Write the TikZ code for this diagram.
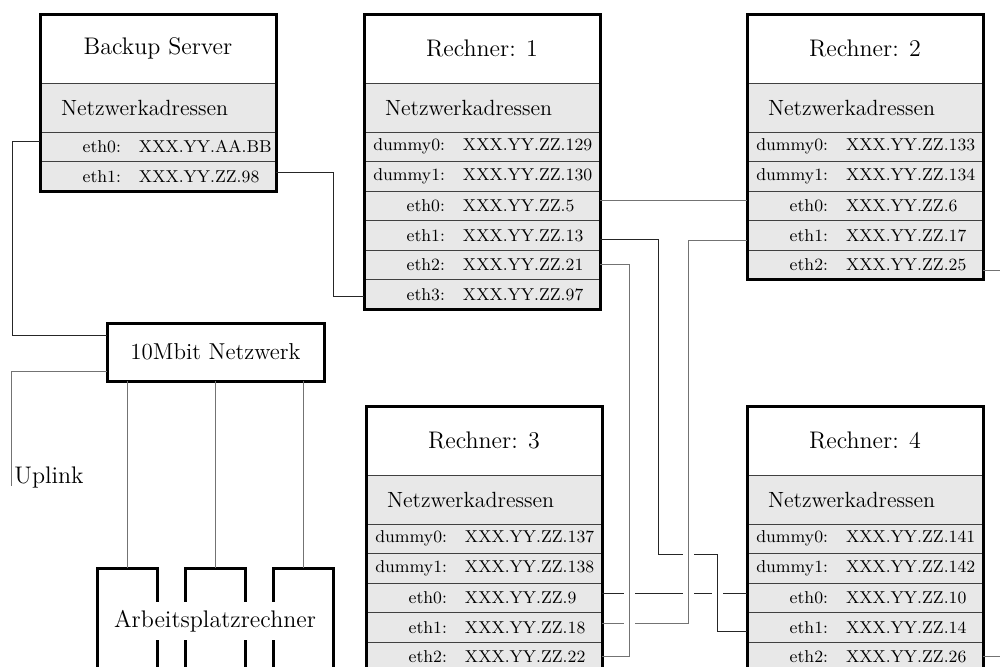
\documentclass[tikz,border=0pt]{standalone}
\usetikzlibrary{calc}
\tikzset{
  hdr/.style={draw=black!75, line width=0.5pt, fill=white, anchor=north west, inner sep=0pt, outer sep=0pt,
    minimum width=118pt, minimum height=34.5pt, font=\fontsize{12}{14}\selectfont},
  netz/.style={draw=black!75, line width=0.5pt, fill=black!9, anchor=north west, inner sep=0pt, outer sep=0pt,
    minimum width=118pt, minimum height=24.5pt, font=\fontsize{11}{13}\selectfont},
  rowcell/.style={draw=black!75, line width=0.5pt, fill=black!9, anchor=north west, inner sep=0pt, outer sep=0pt,
    minimum width=118pt, minimum height=14.75pt, font=\fontsize{8.6}{10}\selectfont},
  frame/.style={draw=black, line width=1.5pt},
  netbox/.style={draw=black, line width=1.5pt, fill=white, inner sep=0pt, outer sep=0pt,
    minimum width=108.5pt, minimum height=29pt, font=\fontsize{11.5}{13}\selectfont},
  wsbox/.style={draw=black, line width=1.5pt, fill=white, anchor=north, inner sep=0pt, outer sep=0pt,
    minimum width=30pt, minimum height=70pt},
  lnk/.style={draw=black!85, line width=0.5pt},
  lng/.style={draw=black!55, line width=0.5pt},
}
\newcommand\nwrow[5]{\node[rowcell] (#1) at (#2,#3) {\makebox[118pt][l]{\makebox[40.5pt][r]{#4}\hspace{9pt}#5}};}
\newcommand\nwhead[3]{\node[netz] (#1) at (#2,#3) {\makebox[118pt][l]{\hspace{10.5pt}Netzwerkadressen}};}
\begin{document}
\begin{tikzpicture}[x=0.5pt,y=-0.5pt]
\useasboundingbox (0,0) rectangle (1000,666);
\clip (0,0) rectangle (1000,666);

% Backup Server
\node[hdr] (bk) at (40,14) {Backup Server};
\nwhead{bkn}{40}{83}
\nwrow{bke0}{40}{132}{eth0:}{XXX.YY.AA.BB}
\nwrow{bke1}{40}{161.5}{eth1:}{XXX.YY.ZZ.98}
\draw[frame] (bk.north west) rectangle (bke1.south east);

% Rechner 1
\node[hdr] (r1) at (364,14) {Rechner: 1};
\nwhead{r1n}{364}{83}
\nwrow{r1d0}{364}{132}{dummy0:}{XXX.YY.ZZ.129}
\nwrow{r1d1}{364}{161.5}{dummy1:}{XXX.YY.ZZ.130}
\nwrow{r1e0}{364}{191}{eth0:}{XXX.YY.ZZ.5}
\nwrow{r1e1}{364}{220.5}{eth1:}{XXX.YY.ZZ.13}
\nwrow{r1e2}{364}{250}{eth2:}{XXX.YY.ZZ.21}
\nwrow{r1e3}{364}{279.5}{eth3:}{XXX.YY.ZZ.97}
\draw[frame] (r1.north west) rectangle (r1e3.south east);

% Rechner 2
\node[hdr] (r2) at (747,14) {Rechner: 2};
\nwhead{r2n}{747}{83}
\nwrow{r2d0}{747}{132}{dummy0:}{XXX.YY.ZZ.133}
\nwrow{r2d1}{747}{161.5}{dummy1:}{XXX.YY.ZZ.134}
\nwrow{r2e0}{747}{191}{eth0:}{XXX.YY.ZZ.6}
\nwrow{r2e1}{747}{220.5}{eth1:}{XXX.YY.ZZ.17}
\nwrow{r2e2}{747}{250}{eth2:}{XXX.YY.ZZ.25}
\draw[frame] (r2.north west) rectangle (r2e2.south east);

% Rechner 3
\node[hdr] (r3) at (366,406) {Rechner: 3};
\nwhead{r3n}{366}{475}
\nwrow{r3d0}{366}{524}{dummy0:}{XXX.YY.ZZ.137}
\nwrow{r3d1}{366}{553.5}{dummy1:}{XXX.YY.ZZ.138}
\nwrow{r3e0}{366}{583}{eth0:}{XXX.YY.ZZ.9}
\nwrow{r3e1}{366}{612.5}{eth1:}{XXX.YY.ZZ.18}
\nwrow{r3e2}{366}{642}{eth2:}{XXX.YY.ZZ.22}
\draw[frame] (r3.north west) rectangle (r3e2.south east);

% Rechner 4
\node[hdr] (r4) at (747,406) {Rechner: 4};
\nwhead{r4n}{747}{475}
\nwrow{r4d0}{747}{524}{dummy0:}{XXX.YY.ZZ.141}
\nwrow{r4d1}{747}{553.5}{dummy1:}{XXX.YY.ZZ.142}
\nwrow{r4e0}{747}{583}{eth0:}{XXX.YY.ZZ.10}
\nwrow{r4e1}{747}{612.5}{eth1:}{XXX.YY.ZZ.14}
\nwrow{r4e2}{747}{642}{eth2:}{XXX.YY.ZZ.26}
\draw[frame] (r4.north west) rectangle (r4e2.south east);

% 10Mbit network and workstations
\node[netbox] (net) at (215.5,352) {10Mbit Netzwerk};
\node[wsbox] (ws1) at (127.5,568) {};
\node[wsbox] (ws2) at (215.5,568) {};
\node[wsbox] (ws3) at (303,568) {};
\node[fill=white, inner xsep=1pt, inner ysep=4pt, font=\fontsize{12}{14}\selectfont] (ws) at (215,621) {Arbeitsplatzrechner};
\draw[lng] (net.south -| ws1.north) -- (ws1.north);
\draw[lng] (net.south -| ws2.north) -- (ws2.north);
\draw[lng] (net.south -| ws3.north) -- (ws3.north);

% Uplink
\coordinate (upend) at (11,486);
\node[anchor=west, inner sep=0pt, font=\fontsize{12}{14}\selectfont] (uplink) at (14,477) {Uplink};
\draw[lng] ($(net.west)+(0,19)$) -| (upend);

% Backup connections
\draw[lnk] ($(bke0.west)+(0,-5)$) -- ++(-28,0) |- ($(net.west)+(0,-17)$);
\draw[lnk] ($(bke1.east)+(0,-4.25)$) -- ++(57,0) |- ($(r1e3.west)+(0,2)$);

% Rechner connections
\draw[lng] ($(r1e0.east)+(0,-5.75)$) -- ($(r2e0.west)+(0,-5.75)$);
\draw[lnk] ($(r1e1.east)+(0,3.75)$) -- ++(58,0) -- ++(0,315) -- ++(59,0) |- ($(r4e1.west)+(0,3.75)$);
\draw[lng] ($(r2e1.west)+(0,4.75)$) -- ++(-59,0) |- ($(r3e1.east)+(0,-4.25)$);
\draw[lng] (r1e2.east) -- ++(29,0) |- ($(r3e2.east)+(0,-0.75)$);
\draw[lnk] ($(r3e0.east)+(0,-4.75)$) -- ($(r4e0.west)+(0,-4.75)$);
\coordinate (r2out) at (1002,270);
\coordinate (r4out) at (1002,656);
\draw[lng] ($(r2e2.east)+(0,5.25)$) -- (r2out);
\draw[lng] ($(r4e2.east)+(0,-0.75)$) -- (r4out);

% line jumps (gaps in horizontal lines at crossings)
\foreach \px/\py/\c in {629/593/black!55, 688/593/black!55, 717/593/black!85, 629/623/black!55, 688/554/black!55}{
  \fill[white] (\px-5.5,\py-3) rectangle (\px+5.5,\py+3);
  \draw[line width=0.5pt, draw=\c] (\px,\py-4) -- (\px,\py+4);
}
\end{tikzpicture}
\end{document}
